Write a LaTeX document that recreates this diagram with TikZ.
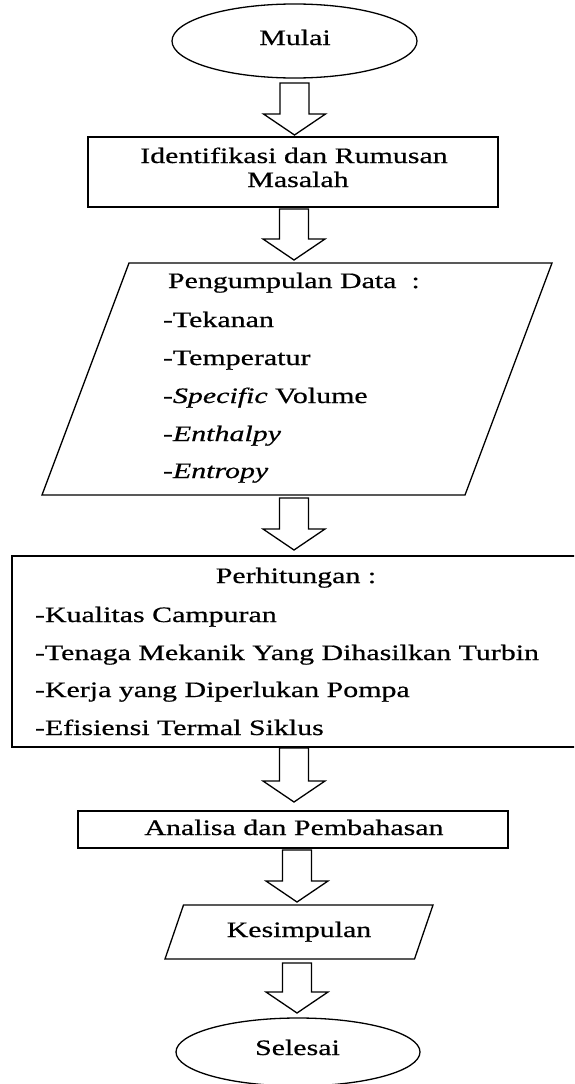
\documentclass[tikz,border=0pt]{standalone}
\usepackage{fontspec}
\setmainfont{Liberation Serif}[FakeStretch=1.36, FakeBold=0.6]
\usetikzlibrary{shapes.geometric,calc}
\tikzset{
  shapeline/.style={draw=black, line width=1.3pt},
  oval/.style={shapeline, ellipse, inner sep=0pt, outer sep=0pt},
  box/.style={shapeline, rectangle, inner sep=0pt, outer sep=0pt},
  parabody/.style={rectangle, inner sep=0pt, outer sep=0pt},
  txt/.style={inner sep=0pt, outer sep=0pt, font=\fontsize{22}{26}\selectfont},
  barrow/.style={draw=black, line width=1.3pt, fill=white, line join=miter},
}
% block arrow: from node, to node, x centre, gap below source, gap above target
\newcommand{\blockarrow}[5]{%
  \draw[barrow] let \p1=(#1.south), \p2=(#2.north) in
    ({#3pt-14.5pt},{\y1-#4pt}) -- ({#3pt-14.5pt},{\y2+#5pt+21pt})
    -- ({#3pt-31pt},{\y2+#5pt+21pt}) -- ({#3pt},{\y2+#5pt})
    -- ({#3pt+31pt},{\y2+#5pt+21pt}) -- ({#3pt+14.5pt},{\y2+#5pt+21pt})
    -- ({#3pt+14.5pt},{\y1-#4pt}) -- cycle;}
% parallelogram outline on a named node: node, horizontal slant
\newcommand{\paraoutline}[2]{%
  \draw[shapeline, line join=miter] ($(#1.north west)+(#2,0)$) -- (#1.north east)
    -- ($(#1.south east)-(#2,0)$) -- (#1.south west) -- cycle;}
\begin{document}
\begin{tikzpicture}[x=1pt,y=-1pt]
\useasboundingbox (0,0) rectangle (574,1084);
\clip (0,0) rectangle (574,1084);
\fill[white] (0,0) rectangle (574,1084);

% shapes
\node[oval, minimum width=245pt, minimum height=74pt] (mulai) at (294.5,41) {};
\node[box, minimum width=410pt, minimum height=70pt] (ident) at (293,172) {};
\node[parabody, minimum width=510pt, minimum height=232pt] (data) at (297,379) {};
\paraoutline{data}{87}
\node[box, minimum width=578pt, minimum height=191pt] (hitung) at (301,651.5) {};
\node[box, minimum width=430pt, minimum height=37pt] (analisa) at (293,829.5) {};
\node[parabody, minimum width=268pt, minimum height=54pt] (simpul) at (299,932) {};
\paraoutline{simpul}{18.5}
\node[oval, minimum width=244pt, minimum height=68pt] (selesai) at (298,1052) {};

% texts
\node[txt, anchor=base] (tmulai) at (295,45) {Mulai};
\node[txt, anchor=base] (tident1) at (294,163) {Identifikasi dan Rumusan};
\node[txt, anchor=base] (tident2) at (298,187) {Masalah};

\node[txt, anchor=base west] (tdata) at (168,288) {Pengumpulan Data\ \ :};
\node[txt, anchor=base west] (td1) at (163,327) {-Tekanan};
\node[txt, anchor=base west] (td2) at (163,365) {-Temperatur};
\node[txt, anchor=base west] (td3) at (163,403) {-\textit{Specific} Volume};
\node[txt, anchor=base west] (td4) at (163,441) {\textit{-Enthalpy}};
\node[txt, anchor=base west] (td5) at (163,478) {\textit{-Entropy}};

\node[txt, anchor=base] (thitung) at (296,583) {Perhitungan :};
\node[txt, anchor=base west] (th1) at (35,622) {-Kualitas Campuran};
\node[txt, anchor=base west] (th2) at (35,660) {-Tenaga Mekanik Yang Dihasilkan Turbin};
\node[txt, anchor=base west] (th3) at (35,697) {-Kerja yang Diperlukan Pompa};
\node[txt, anchor=base west] (th4) at (35,735) {-Efisiensi Termal Siklus};

\node[txt, anchor=base] (tanalisa) at (294,835) {Analisa dan Pembahasan};
\node[txt, anchor=base] (tsimpul) at (299,937) {Kesimpulan};
\node[txt, anchor=base] (tselesai) at (297.5,1055) {Selesai};

% block arrows
\blockarrow{mulai}{ident}{294.5}{5}{2}
\blockarrow{ident}{data}{294}{2}{3}
\blockarrow{data}{hitung}{294}{3}{6}
\blockarrow{hitung}{analisa}{294}{1}{9}
\blockarrow{analisa}{simpul}{297}{2}{3}
\blockarrow{simpul}{selesai}{297}{4}{5}
\end{tikzpicture}
\end{document}
